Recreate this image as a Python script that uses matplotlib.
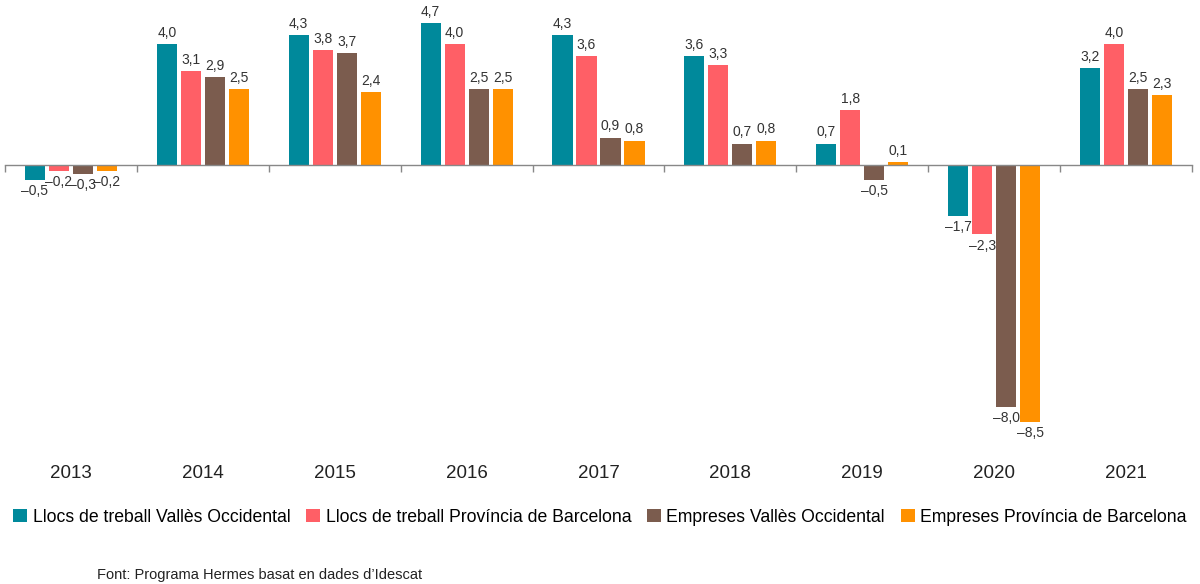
import numpy as np
import matplotlib
matplotlib.use("Agg")
import matplotlib.pyplot as plt
from matplotlib.patches import Patch

plt.rcParams['font.family'] = ['Liberation Sans', 'DejaVu Sans']

############################################################
# Data
############################################################

years = ["2013", "2014", "2015", "2016", "2017", "2018", "2019", "2020", "2021"]

llocs_valles = [-0.5, 4.0, 4.3, 4.7, 4.3, 3.6, 0.7, -1.7, 3.2]
llocs_bcn = [-0.2, 3.1, 3.8, 4.0, 3.6, 3.3, 1.8, -2.3, 4.0]
empreses_valles = [-0.3, 2.9, 3.7, 2.5, 0.9, 0.7, -0.5, -8.0, 2.5]
empreses_bcn = [-0.2, 2.5, 2.4, 2.5, 0.8, 0.8, 0.1, -8.5, 2.3]

series_names = [
    "Llocs de treball Vallès Occidental",
    "Llocs de treball Província de Barcelona",
    "Empreses Vallès Occidental",
    "Empreses Província de Barcelona",
]

colors = ["#00899b", "#ff5f66", "#7b5c4e", "#ff9100"]

############################################################
# Figure
############################################################

fig = plt.figure(figsize=(12, 5.84), dpi=100)
ax = fig.add_axes([5 / 1200, 1 - 440 / 584, 1187 / 1200, 440 / 584])

x = np.arange(len(years))
width = 0.152
step = 0.182

all_series = [llocs_valles, llocs_bcn, empreses_valles, empreses_bcn]

for i, (vals, col) in enumerate(zip(all_series, colors)):
    pos = x + (i - 1.5) * step
    ax.bar(pos, vals, width=width, color=col, zorder=2)
    for px, v in zip(pos, vals):
        lab = f"{v:.1f}".replace(".", ",").replace("-", "\u2013")
        if v >= 0:
            ax.annotate(lab, (px, v), xytext=(0, 3), textcoords="offset points",
                        ha="center", va="bottom", fontsize=10, color="#333333")
        else:
            ax.annotate(lab, (px, v), xytext=(0, -3), textcoords="offset points",
                        ha="center", va="top", fontsize=10, color="#333333")

ax.set_xlim(-0.5, len(years) - 0.5)
ax.set_ylim(-9.1, 5.45)

for s in ["top", "right", "left"]:
    ax.spines[s].set_visible(False)
ax.spines["bottom"].set_position(("data", 0))
ax.spines["bottom"].set_color("#888888")
ax.spines["bottom"].set_linewidth(1)
ax.spines["bottom"].set_zorder(3)

ax.set_yticks([])
ax.set_xticks(np.arange(len(years) + 1) - 0.5)
ax.set_xticklabels([])
ax.tick_params(axis="x", length=5, width=1, color="#888888", direction="out")

for i, yr in enumerate(years):
    ax.text(i, -0.075, yr, transform=ax.get_xaxis_transform(),
            ha="center", va="center", fontsize=13.5, color="#222222")

############################################################
# Legend and source
############################################################

handles = [Patch(facecolor=c, edgecolor="none") for c in colors]
fig.legend(handles, series_names, loc="center", bbox_to_anchor=(0.5, 1 - 517 / 584),
           ncol=4, frameon=False, fontsize=12.7, handlelength=0.8, handleheight=0.8,
           handletextpad=0.3, columnspacing=0.9, borderaxespad=0, borderpad=0)

fig.text(97 / 1200, 1 - 575 / 584, "Font: Programa Hermes basat en dades d\u2019Idescat",
         ha="left", va="center", fontsize=10.5, color="#222222")

fig.savefig("out.png", dpi=100)
